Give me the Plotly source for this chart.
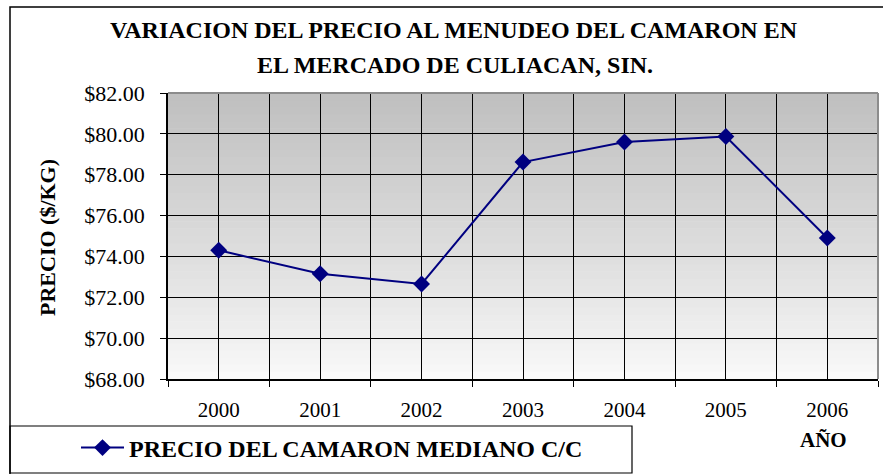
import plotly.graph_objects as go

# Data
years = ['2000', '2001', '2002', '2003', '2004', '2005', '2006']
precio = [74.30, 73.15, 72.65, 78.62, 79.60, 79.87, 74.90]
seriesName = 'PRECIO DEL CAMARON MEDIANO C/C'
titleLines = ['VARIACION DEL PRECIO AL MENUDEO DEL CAMARON EN', 'EL MERCADO DE CULIACAN, SIN.']
yTitle = 'PRECIO ($/KG)'
xTitle = 'AÑO'

W, H = 883, 474
L, R, T, B = 168, 878, 93, 379
pw, ph = R - L, B - T

def px(x):
    return (x - L) / pw

def py(y):
    return (B - y) / ph

serif = '"Liberation Serif", "DejaVu Serif", serif'
navy = '#000080'

fig = go.Figure()
fig.add_trace(go.Scatter(x=list(range(len(years))), y=precio, name='<b>%s</b>' % seriesName,
                         mode='lines+markers', line=dict(color=navy, width=2),
                         marker=dict(symbol='diamond', size=13, color=navy)))

shapes = []
# gradient background of the plot area (gray at top, near white at bottom)
nb = 40
for i in range(nb):
    g = int(250 - (250 - 192) * (i / (nb - 1)) ** 0.9)
    shapes.append(dict(type='rect', xref='x domain', yref='y domain', x0=0, x1=1,
                       y0=i / nb, y1=(i + 1) / nb + 0.002, line_width=0,
                       fillcolor='rgb(%d,%d,%d)' % (g, g, g), layer='below'))
# gray border top / right
shapes.append(dict(type='line', xref='x domain', yref='y domain', x0=0, x1=1, y0=1, y1=1,
                   line=dict(color='#8c8c8c', width=2), layer='above'))
shapes.append(dict(type='line', xref='x domain', yref='y domain', x0=1, x1=1, y0=0, y1=1,
                   line=dict(color='#8c8c8c', width=2), layer='above'))
# outer chart frame
shapes.append(dict(type='rect', xref='paper', yref='paper', x0=px(10), x1=px(W + 5),
                   y0=py(H + 5), y1=py(7), line=dict(color='black', width=1.5), layer='above'))
# legend box
shapes.append(dict(type='rect', xref='paper', yref='paper', x0=px(10), x1=px(632),
                   y0=py(473), y1=py(426), line=dict(color='black', width=1.2), layer='below'))

annotations = [
    dict(text='<b>%s</b>' % titleLines[0], xref='paper', yref='paper', x=px(454), y=py(30),
         showarrow=False, xanchor='center', yanchor='middle', font=dict(family=serif, size=24, color='black')),
    dict(text='<b>%s</b>' % titleLines[1], xref='paper', yref='paper', x=px(455), y=py(65),
         showarrow=False, xanchor='center', yanchor='middle', font=dict(family=serif, size=24, color='black')),
    dict(text='<b>%s</b>' % yTitle, xref='paper', yref='paper', x=px(47), y=py(238), textangle=-90,
         showarrow=False, xanchor='center', yanchor='middle', font=dict(family=serif, size=22, color='black')),
    dict(text='<b>%s</b>' % xTitle, xref='paper', yref='paper', x=px(823), y=py(440),
         showarrow=False, xanchor='center', yanchor='middle', font=dict(family=serif, size=21, color='black')),
]

fig.update_layout(
    width=W, height=H,
    margin=dict(l=L, r=W - R, t=T, b=H - B, pad=0, autoexpand=False),
    paper_bgcolor='white', plot_bgcolor='rgba(0,0,0,0)',
    font=dict(family=serif, size=21, color='black'),
    showlegend=True,
    legend=dict(x=px(76), y=py(448), xanchor='left', yanchor='middle', bgcolor='rgba(0,0,0,0)',
                borderwidth=0, itemwidth=43, font=dict(family=serif, size=24, color='black')),
    shapes=shapes, annotations=annotations,
)

fig.update_xaxes(range=[-0.5, len(years) - 0.5], tickvals=list(range(len(years))), ticktext=years,
                 ticks='', showgrid=True, gridcolor='black', gridwidth=1, zeroline=False,
                 showline=True, linecolor='black', linewidth=1.5, ticklabelstandoff=11,
                 minor=dict(tick0=-0.5, dtick=1, ticks='outside', ticklen=6, tickcolor='black',
                            showgrid=True, gridcolor='black', gridwidth=1),
                 fixedrange=True)
fig.update_yaxes(range=[68, 82], dtick=2, tickprefix='$', tickformat='.2f', ticks='outside', ticklen=6,
                 tickcolor='black', showgrid=True, gridcolor='black', gridwidth=1, zeroline=False,
                 showline=True, linecolor='black', linewidth=1.5, ticklabelstandoff=11,
                 tickfont=dict(size=22), fixedrange=True)

# the page's default body margin would shift the chart by 8px
fig.write_html('out.html', config={'displayModeBar': False},
               post_script="document.body.style.margin='0';")
